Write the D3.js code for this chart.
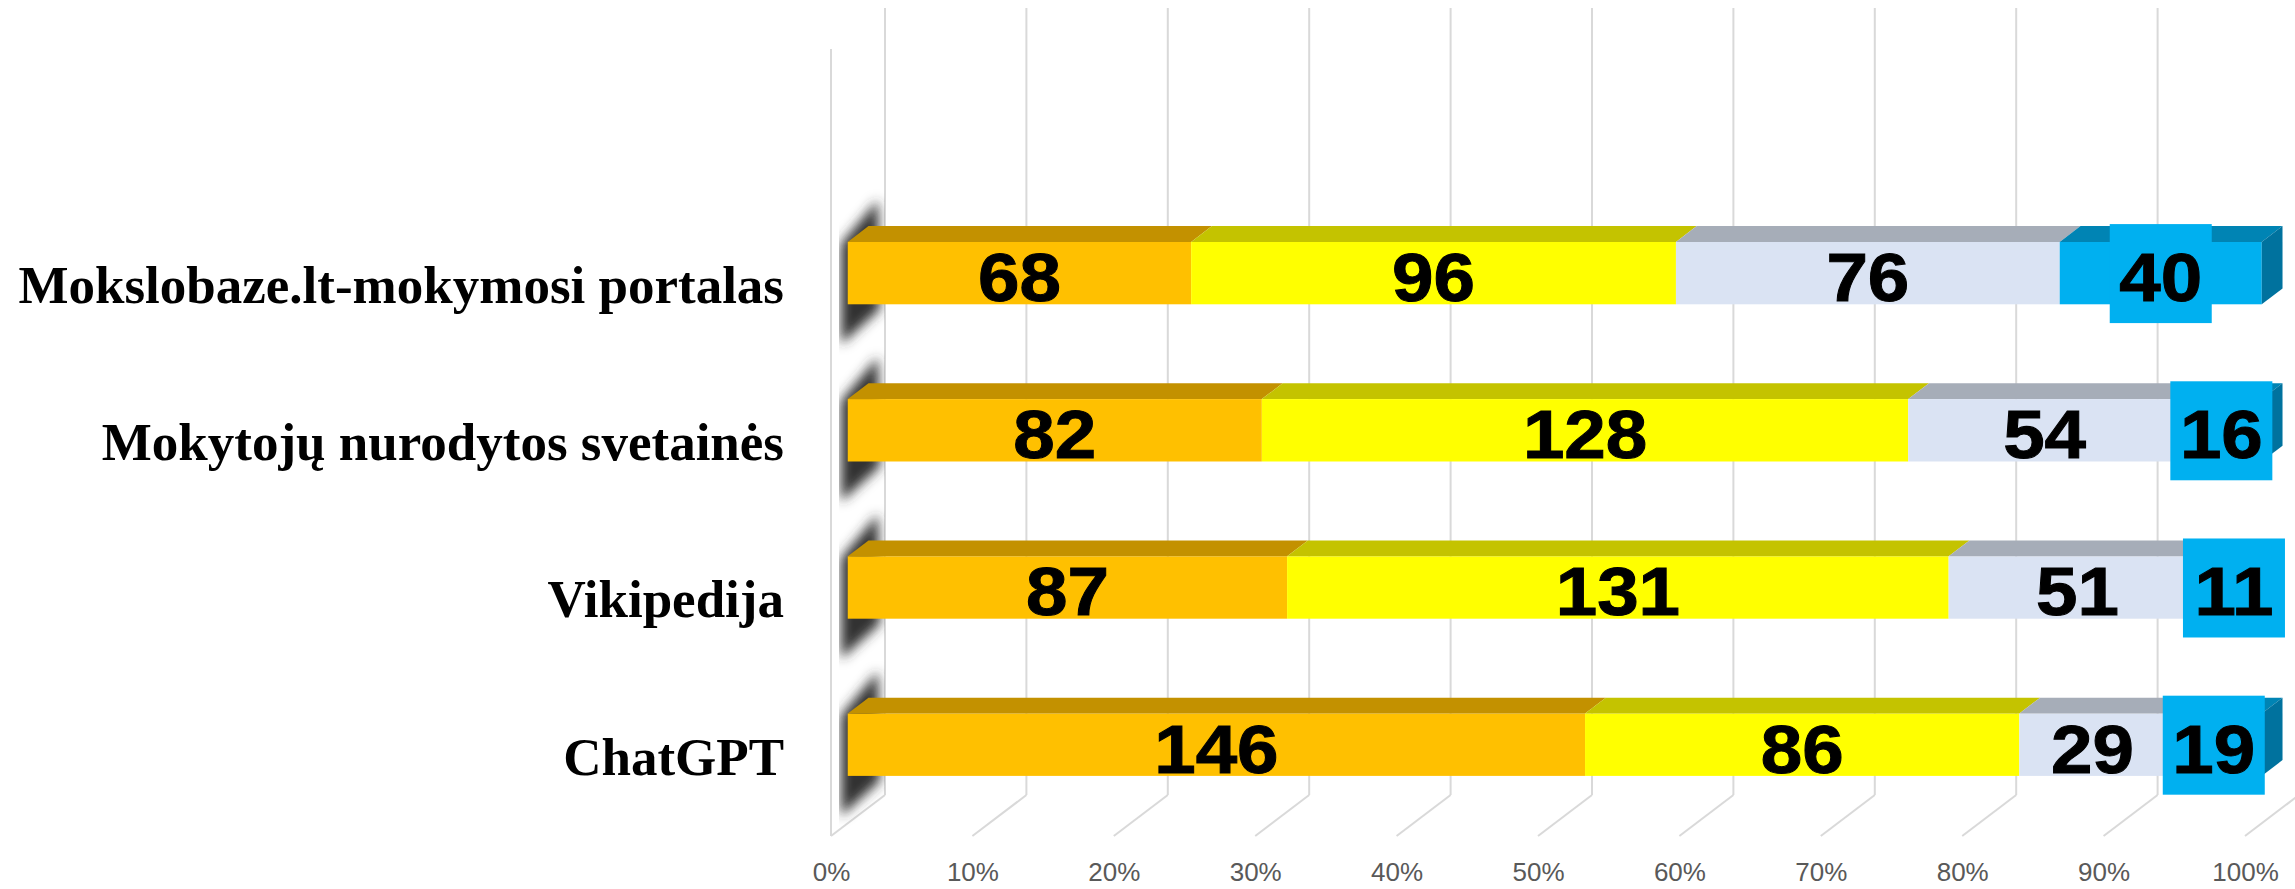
<!DOCTYPE html>
<html>
<head>
<meta charset="utf-8">
<script src="https://cdn.jsdelivr.net/npm/d3@7"></script>
<style>
  html, body { margin: 0; padding: 0; background: #fff; }
  svg { display: block; }
</style>
</head>
<body>
<div id="chart"></div>
<script>
const width = 2295;
const height = 889;

// data (counts, shown as 100% stacked)
const categories = ["Mokslobaze.lt-mokymosi portalas", "Mokytojų nurodytos svetainės", "Vikipedija", "ChatGPT"];
const seriesKeys = ["s1", "s2", "s3", "s4"];
const s1 = [68, 82, 87, 146];
const s2 = [96, 128, 131, 86];
const s3 = [76, 54, 51, 29];
const s4 = [40, 16, 11, 19];

const frontColors = ["#FFC000", "#FFFF00", "#DAE3F3", "#00B0F0"];
const topColors = ["#C39100", "#C4C300", "#A6ADB8", "#0084B4"];
const sideColor = "#00729E";

const rows = categories.map((c, i) => ({ cat: c, s1: s1[i], s2: s2[i], s3: s3[i], s4: s4[i] }));
const stack = d3.stack().keys(seriesKeys).offset(d3.stackOffsetExpand)(rows);

// oblique 3d projection: depth 0 = front, 1 = back wall
const DX = 54, DY = 41;
const d0 = 0.31, d1 = 0.695;
const yTop = 49, yFloor = 836;

const x = d3.scaleLinear().domain([0, 1]).range([831, 2245]);
const y = d3.scaleBand().domain(categories).range([207.2, yFloor])
    .paddingInner(0.603).paddingOuter(0.3015);

const P = (v, yy, d) => [x(v) + DX * d, yy - DY * d];
const poly = pts => pts.map(p => p.join(",")).join(" ");

const svg = d3.select("#chart")
    .append("svg")
    .attr("width", width)
    .attr("height", height);

const defs = svg.append("defs");
defs.append("filter")
    .attr("id", "blur")
    .attr("x", "-50%").attr("y", "-50%").attr("width", "200%").attr("height", "200%")
    .append("feGaussianBlur").attr("stdDeviation", 6);
defs.append("clipPath").attr("id", "wallClip")
    .append("rect").attr("x", 839).attr("y", 0).attr("width", 46).attr("height", height);

const grid = svg.append("g").attr("stroke", "#D9D9D9").attr("stroke-width", 2).attr("fill", "none");
const ticks = x.ticks(10);

// back wall gridlines
grid.selectAll("line.back")
    .data(ticks)
    .join("line")
    .attr("class", "back")
    .attr("x1", d => P(d, yTop, 1)[0])
    .attr("y1", d => P(d, yTop, 1)[1])
    .attr("x2", d => P(d, yFloor, 1)[0])
    .attr("y2", d => P(d, yFloor, 1)[1]);

// floor lines
grid.selectAll("line.floor")
    .data(ticks)
    .join("line")
    .attr("class", "floor")
    .attr("x1", d => P(d, yFloor, 0)[0])
    .attr("y1", d => P(d, yFloor, 0)[1])
    .attr("x2", d => P(d, yFloor, 1)[0])
    .attr("y2", d => P(d, yFloor, 1)[1]);

// side wall front edge
grid.append("line")
    .attr("x1", P(0, yTop, 0)[0]).attr("y1", P(0, yTop, 0)[1])
    .attr("x2", P(0, yFloor, 0)[0]).attr("y2", P(0, yFloor, 0)[1]);

// blurred shadows of the bar ends on the side wall
const bw = y.bandwidth();
svg.append("g")
    .attr("clip-path", "url(#wallClip)")
    .selectAll("polygon")
    .data(categories)
    .join("polygon")
    .attr("fill", "#333")
    .attr("filter", "url(#blur)")
    .attr("points", c => {
        const yt = P(0, y(c), d0)[1], yb = yt + bw;
        return poly([[841, yt + 2], [878, yt - 42], [880, yb + 5], [841, yb + 40]]);
    });

// bars
const bars = svg.append("g");
stack.forEach((layer, si) => {
    const g = bars.append("g");
    g.selectAll("rect")
        .data(layer)
        .join("rect")
        .attr("x", d => P(d[0], 0, d0)[0])
        .attr("y", d => P(0, y(d.data.cat), d0)[1])
        .attr("width", d => x(d[1]) - x(d[0]))
        .attr("height", bw)
        .attr("fill", frontColors[si]);
    g.selectAll("polygon")
        .data(layer)
        .join("polygon")
        .attr("fill", topColors[si])
        .attr("points", d => {
            const yt = y(d.data.cat);
            return poly([P(d[0], yt, d0), P(d[1], yt, d0), P(d[1], yt, d1), P(d[0], yt, d1)]);
        });
    if (si === stack.length - 1) {
        g.selectAll("polygon.side")
            .data(layer)
            .join("polygon")
            .attr("class", "side")
            .attr("fill", sideColor)
            .attr("points", d => {
                const yt = y(d.data.cat), yb = yt + bw;
                return poly([P(d[1], yt, d0), P(d[1], yt, d1), P(d[1], yb, d1), P(d[1], yb, d0)]);
            });
    }
});

// data labels
const labels = svg.append("g");
stack.forEach((layer, si) => {
    const g = labels.append("g");
    const cx = d => (x(d[0]) + x(d[1])) / 2 + DX * d0;
    const cy = d => y(d.data.cat) - DY * d0 + bw / 2;
    if (si === stack.length - 1) {
        g.selectAll("rect")
            .data(layer)
            .join("rect")
            .attr("x", d => cx(d) - 51)
            .attr("y", d => cy(d) - 49)
            .attr("width", 102)
            .attr("height", 99)
            .attr("fill", frontColors[si]);
    }
    g.selectAll("text")
        .data(layer)
        .join("text")
        .attr("transform", d => `translate(${cx(d)}, ${cy(d) + 28}) scale(1.08, 1)`)
        .attr("text-anchor", "middle")
        .style("font-family", "'Liberation Sans', Arial, sans-serif")
        .style("font-weight", "bold")
        .style("font-size", "69px")
        .attr("fill", "#000")
        .attr("stroke", "#000")
        .attr("stroke-width", 1)
        .text(d => d.data[seriesKeys[si]]);
});

// category labels
svg.append("g")
    .selectAll("text")
    .data(categories)
    .join("text")
    .attr("x", 784)
    .attr("y", c => y(c) - DY * d0 + bw / 2 + 30)
    .attr("text-anchor", "end")
    .style("font-family", "'Liberation Serif', 'Times New Roman', serif")
    .style("font-weight", "bold")
    .style("font-size", "53px")
    .attr("fill", "#000")
    .text(c => c);

// percentage axis
const xAxis = d3.axisBottom(x).ticks(10).tickFormat(d3.format(".0%")).tickSize(0).tickPadding(0);
const axisG = svg.append("g")
    .attr("transform", "translate(0, 863)")
    .call(xAxis);
axisG.select(".domain").remove();
axisG.selectAll("text")
    .style("font-family", "'Liberation Sans', Arial, sans-serif")
    .style("font-size", "26px")
    .attr("fill", "#595959");
</script>
</body>
</html>
